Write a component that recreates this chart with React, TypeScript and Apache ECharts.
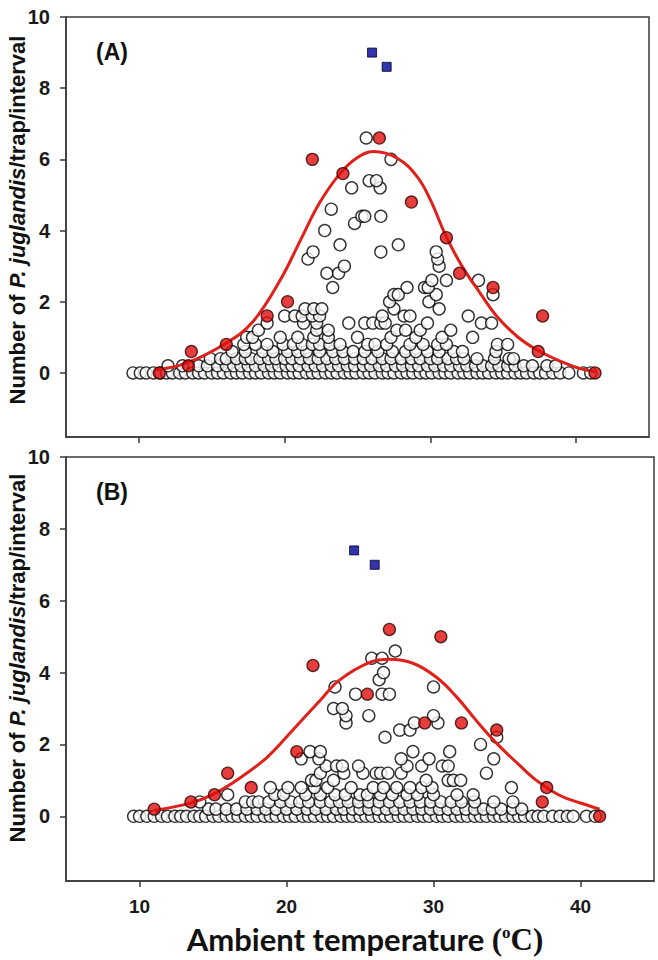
import React, { useEffect, useRef } from "react";
import * as echarts from "echarts";

// ---------- DATA ----------
const xTicks = [10, 20, 30, 40];
const yTicks = [0, 2, 4, 6, 8, 10];

// Panel A: open circles, grouped by y level -> x positions
const whiteA: Array<[number, number[]]> = [
  [0, [9.6, 10.1, 10.5, 11.0, 11.5, 11.9, 12.3, 12.8, 13.2, 13.7, 14.1, 14.5, 15.0, 15.4, 15.8, 16.3, 16.7, 17.1, 17.6, 18.0, 18.4, 18.9, 19.3, 19.7, 20.2, 20.6, 21.0, 21.5, 21.9, 22.3, 22.8, 23.2, 23.6, 24.1, 24.5, 24.9, 25.4, 25.8, 26.2, 26.7, 27.1, 27.5, 28.0, 28.4, 28.8, 29.3, 29.7, 30.1, 30.6, 31.0, 31.4, 31.9, 32.3, 32.7, 33.2, 33.6, 34.0, 34.5, 34.9, 35.3, 35.8, 36.2, 36.6, 37.1, 37.5, 37.9, 38.4, 38.9, 39.5, 40.5, 41.0]],
  [0.2, [12.0, 13.0, 14.1, 14.7, 15.4, 16.0, 16.5, 17.0, 17.5, 18.0, 18.6, 19.1, 19.6, 20.1, 20.5, 21.0, 21.6, 22.1, 22.6, 23.2, 23.7, 24.3, 24.8, 25.4, 25.9, 26.5, 27.0, 27.6, 28.1, 28.7, 29.2, 29.8, 30.3, 30.9, 31.4, 32.0, 32.5, 33.1, 33.6, 34.2, 34.7, 35.3, 35.8, 36.4, 37.0, 38.0, 38.6]],
  [0.4, [14.9, 15.6, 16.0, 16.7, 17.3, 17.7, 18.3, 18.9, 19.4, 20.0, 20.5, 21.1, 21.7, 22.3, 22.9, 23.5, 24.1, 24.8, 25.4, 26.0, 26.7, 27.3, 28.0, 28.7, 29.3, 30.0, 30.5, 31.2, 31.8, 32.3, 33.2, 34.4, 35.4, 35.7]],
  [0.6, [16.4, 17.3, 18.5, 19.2, 20.2, 20.9, 21.5, 22.4, 23.3, 24.0, 24.7, 25.5, 26.4, 27.4, 28.3, 29.0, 29.8, 30.6, 31.6, 32.2, 34.5]],
  [0.8, [17.2, 18.0, 18.8, 19.9, 20.6, 21.2, 21.9, 22.4, 23.1, 23.8, 25.7, 26.2, 27.0, 28.6, 29.5, 30.5, 31.1, 34.6, 35.3]],
  [1.0, [17.4, 17.8, 19.7, 20.9, 22.0, 23.0, 25.0, 27.3, 29.0, 30.8, 32.9]],
  [1.2, [18.2, 22.2, 23.0, 27.7, 28.3, 29.3, 31.4]],
  [1.4, [18.8, 21.3, 22.2, 24.4, 25.5, 26.05, 26.6, 26.9, 29.8, 33.5, 34.2]],
  [1.6, [20.0, 20.7, 21.2, 21.9, 22.4, 26.7, 28.2, 28.6, 32.6]],
  [1.8, [21.4, 22.0, 22.55, 27.5, 30.6]],
  [2.0, [27.2, 29.9]],
  [2.2, [27.5, 27.8, 30.4, 34.3]],
  [2.4, [23.3, 28.4, 29.6, 29.85]],
  [2.6, [30.1, 31.1, 33.3]],
  [2.8, [22.9, 23.7]],
  [3.0, [24.1, 30.6]],
  [3.2, [21.6, 30.5]],
  [3.4, [21.95, 26.6, 30.4]],
  [3.6, [23.8, 27.8]],
  [4.0, [22.75]],
  [4.2, [24.8]],
  [4.4, [25.3, 25.5, 26.6]],
  [4.6, [23.2]],
  [5.2, [24.6, 26.55]],
  [5.4, [25.8, 26.3]],
  [6.0, [27.3]],
  [6.6, [25.6]],
];
const redA: Array<[number, number]> = [
  [11.4, 0], [13.4, 0.2], [13.6, 0.6], [16.0, 0.8], [18.8, 1.6], [20.2, 2.0], [21.9, 6.0], [24.0, 5.6],
  [26.5, 6.6], [28.7, 4.8], [31.1, 3.8], [32.0, 2.8], [34.3, 2.4], [37.4, 0.6], [37.7, 1.6], [41.3, 0],
];
const blueA: Array<[number, number]> = [[26.0, 9.0], [27.0, 8.6]];
const curveA: Array<[number, number]> = [
  [11.2, 0.08], [13.3, 0.28], [16.0, 0.84], [17.8, 1.43], [19.7, 2.61], [21.1, 3.74], [22.4, 4.78],
  [23.8, 5.6], [25.0, 6.05], [26.1, 6.22], [27.7, 6.04], [29.1, 5.51], [30.0, 4.86], [31.1, 3.82],
  [32.2, 2.98], [33.4, 2.25], [34.6, 1.57], [36.0, 1.01], [37.3, 0.65], [38.9, 0.33], [40.2, 0.13], [41.3, 0.03],
];

// Panel B
const whiteB: Array<[number, number[]]> = [
  [0, [9.6, 10.0, 10.5, 11.0, 11.5, 11.9, 12.4, 12.8, 13.2, 13.7, 14.1, 14.5, 15.0, 15.4, 15.9, 16.3, 16.7, 17.2, 17.6, 18.0, 18.5, 18.9, 19.3, 19.8, 20.2, 20.6, 21.1, 21.5, 21.9, 22.4, 22.8, 23.2, 23.7, 24.1, 24.5, 25.0, 25.4, 25.8, 26.3, 26.7, 27.1, 27.6, 28.0, 28.4, 28.9, 29.3, 29.7, 30.2, 30.6, 31.0, 31.5, 31.9, 32.3, 32.8, 33.2, 33.6, 34.1, 34.5, 34.9, 35.4, 35.8, 36.2, 36.7, 37.1, 37.5, 38.1, 38.6, 39.1, 39.5, 40.4, 41.0]],
  [0.2, [14.7, 15.2, 15.9, 16.6, 17.3, 18.0, 18.6, 19.3, 20.0, 20.7, 21.4, 22.0, 22.7, 23.4, 23.9, 24.5, 25.0, 25.6, 26.2, 26.8, 27.4, 28.0, 28.6, 29.2, 29.8, 30.4, 31.0, 31.6, 32.2, 32.8, 33.4, 34.0, 34.6, 35.4, 36.0]],
  [0.4, [14.1, 17.2, 17.7, 18.1, 18.8, 19.6, 20.3, 20.9, 21.5, 22.3, 23.0, 23.6, 24.2, 24.9, 25.6, 26.3, 27.0, 27.7, 28.4, 29.1, 29.8, 30.5, 31.2, 31.9, 32.8, 34.1, 35.4]],
  [0.6, [16.0, 19.2, 19.8, 21.3, 22.3, 23.3, 24.0, 25.0, 25.5, 26.4, 27.2, 28.2, 28.9, 30.0, 31.6, 32.7]],
  [0.8, [18.9, 20.1, 21.0, 21.9, 22.8, 24.4, 25.9, 26.6, 27.5, 28.4, 29.2, 29.9, 35.3]],
  [1.0, [21.7, 22.0, 23.2, 29.5, 31.0, 31.35, 31.85]],
  [1.2, [22.3, 23.9, 25.2, 26.1, 26.4, 26.9, 27.8, 33.6]],
  [1.4, [22.7, 23.4, 23.8, 24.9, 28.2, 29.2, 30.6, 31.0]],
  [1.6, [21.0, 22.2, 27.8, 29.7, 34.1]],
  [1.8, [21.6, 22.3, 28.6, 31.1]],
  [2.0, [33.2]],
  [2.2, [26.7, 34.3]],
  [2.4, [27.7, 28.4]],
  [2.6, [24.05, 28.7, 30.3]],
  [2.8, [24.05, 25.6, 30.0]],
  [3.0, [23.2, 23.8]],
  [3.4, [24.7, 26.5, 27.0]],
  [3.6, [23.3, 30.0]],
  [3.8, [26.3]],
  [4.0, [26.6]],
  [4.4, [25.8, 26.5]],
  [4.6, [27.4]],
];
const redB: Array<[number, number]> = [
  [11.0, 0.2], [13.5, 0.4], [15.1, 0.6], [16.0, 1.2], [17.6, 0.8], [20.7, 1.8], [21.8, 4.2], [25.5, 3.4],
  [27.0, 5.2], [29.4, 2.6], [30.5, 5.0], [31.9, 2.6], [34.3, 2.4], [37.4, 0.4], [37.7, 0.8], [41.3, 0],
];
const blueB: Array<[number, number]> = [[24.6, 7.4], [26.0, 7.0]];
const curveB: Array<[number, number]> = [
  [11.05, 0.17], [13.4, 0.36], [15.0, 0.61], [16.8, 1.06], [18.7, 1.65], [20.4, 2.39], [22.3, 3.23],
  [23.6, 3.79], [25.7, 4.29], [27.0, 4.37], [28.6, 4.26], [30.2, 3.87], [31.6, 3.31], [32.9, 2.67],
  [34.3, 2.03], [35.7, 1.48], [37.0, 1.0], [38.6, 0.58], [40.0, 0.37], [41.3, 0.2],
];

const panelLabels = ["(A)", "(B)"];
const xTitle = "Ambient temperature";

// ---------- STYLE ----------
const SANS = "'Liberation Sans', Arial, sans-serif";
const AXIS_COLOR = "#3a3a3a";

function flatten(rows: Array<[number, number[]]>): Array<[number, number]> {
  const out: Array<[number, number]> = [];
  rows.forEach(([y, xs]) => xs.forEach((x) => out.push([x, y])));
  return out;
}

function xAxisFor(idx: number, showLabels: boolean) {
  return {
    type: "value",
    gridIndex: idx,
    min: 5,
    max: 45,
    axisLine: { show: true, onZero: false, lineStyle: { color: AXIS_COLOR, width: 1.5 } },
    axisTick: { show: true, customValues: xTicks, length: 6, inside: false, lineStyle: { color: AXIS_COLOR, width: 1.5 } },
    axisLabel: showLabels
      ? { show: true, customValues: xTicks, fontSize: 19, fontWeight: "bold", color: "#1a1a1a", fontFamily: SANS, margin: 16 }
      : { show: false },
    splitLine: { show: false },
  };
}
function yAxisFor(idx: number) {
  return {
    type: "value",
    gridIndex: idx,
    min: -1.8,
    max: 10,
    axisLine: { show: true, onZero: false, lineStyle: { color: AXIS_COLOR, width: 1.5 } },
    axisTick: { show: true, customValues: yTicks, length: 6, inside: false, lineStyle: { color: AXIS_COLOR, width: 1.5 } },
    axisLabel: { show: true, customValues: yTicks, fontSize: 20, fontWeight: "bold", color: "#1a1a1a", fontFamily: SANS, margin: 16 },
    splitLine: { show: false },
  };
}

function seriesFor(idx: number, white: Array<[number, number]>, curve: Array<[number, number]>, red: Array<[number, number]>, blue: Array<[number, number]>) {
  return [
    {
      type: "scatter", xAxisIndex: idx, yAxisIndex: idx, data: white, symbol: "circle", symbolSize: 12,
      itemStyle: { color: "#ffffff", borderColor: "#000", borderWidth: 1.4 }, z: 2,
    },
    {
      type: "line", xAxisIndex: idx, yAxisIndex: idx, data: curve, smooth: 0.4, showSymbol: false,
      lineStyle: { color: "#e0201a", width: 3 }, z: 3,
    },
    {
      type: "scatter", xAxisIndex: idx, yAxisIndex: idx, data: red, symbol: "circle", symbolSize: 12,
      itemStyle: { color: "#e00c0c", borderColor: "#300000", borderWidth: 1.3 }, z: 4,
    },
    {
      type: "scatter", xAxisIndex: idx, yAxisIndex: idx, data: blue, symbol: "rect", symbolSize: 9,
      itemStyle: { color: "#00009a", borderColor: "#000020", borderWidth: 1 }, z: 4,
    },
  ];
}

function yTitleGraphic(cx: number, cy: number) {
  return {
    type: "text",
    x: cx,
    y: cy,
    rotation: Math.PI / 2,
    style: {
      text: "{n|Number of }{i|P. juglandis}{n|/trap/interval}",
      align: "center",
      verticalAlign: "middle",
      textAlign: "center",
      textVerticalAlign: "middle",
      rich: {
        n: { fontFamily: SANS, fontSize: 22, fontWeight: "bold", fill: "#111", color: "#111" },
        i: { fontFamily: SANS, fontSize: 22, fontWeight: "bold", fontStyle: "italic", fill: "#111", color: "#111" },
      },
    },
  };
}

export default function App() {
  const ref = useRef<HTMLDivElement>(null);
  useEffect(() => {
    if (!ref.current) return;
    const chart = echarts.init(ref.current, undefined, { renderer: "svg" });
    const option: any = {
      animation: false,
      backgroundColor: "#ffffff",
      grid: [
        { left: 66, top: 17, width: 583, height: 420, show: true, borderColor: AXIS_COLOR, borderWidth: 1.5, backgroundColor: "transparent" },
        { left: 66, top: 457, width: 588, height: 424, show: true, borderColor: AXIS_COLOR, borderWidth: 1.5, backgroundColor: "transparent" },
      ],
      xAxis: [xAxisFor(0, false), xAxisFor(1, true)],
      yAxis: [yAxisFor(0), yAxisFor(1)],
      series: [
        ...seriesFor(0, flatten(whiteA), curveA, redA, blueA),
        ...seriesFor(1, flatten(whiteB), curveB, redB, blueB),
      ],
      graphic: [
        yTitleGraphic(17, 220),
        yTitleGraphic(17, 658),
        {
          type: "text", x: 112, y: 52,
          style: { text: panelLabels[0], font: `bold 23px ${SANS}`, fill: "#111", align: "center", verticalAlign: "middle", textAlign: "center", textVerticalAlign: "middle" },
        },
        {
          type: "text", x: 112, y: 492,
          style: { text: panelLabels[1], font: `bold 23px ${SANS}`, fill: "#111", align: "center", verticalAlign: "middle", textAlign: "center", textVerticalAlign: "middle" },
        },
        {
          type: "text", x: 365, y: 939,
          style: {
            text: `{a|${xTitle} }{b|(}{s|o}{b|C)}`,
            align: "center", verticalAlign: "middle", textAlign: "center", textVerticalAlign: "middle",
            rich: {
              a: { fontFamily: "Lato, 'Open Sans', sans-serif", fontSize: 31, fontWeight: "bold", fill: "#111", color: "#111" },
              b: { fontFamily: "'Liberation Serif', 'Times New Roman', serif", fontSize: 31, fontWeight: "bold", fill: "#111", color: "#111" },
              s: { fontFamily: "'Liberation Serif', 'Times New Roman', serif", fontSize: 17, fontWeight: "bold", fill: "#111", color: "#111", verticalAlign: "top", padding: [0, 0, 10, 0] },
            },
          },
        },
      ],
    };
    chart.setOption(option);
    return () => chart.dispose();
  }, []);
  return <div ref={ref} style={{ position: "absolute", left: 0, top: 0, width: 658, height: 960, background: "#fff" }} />;
}
